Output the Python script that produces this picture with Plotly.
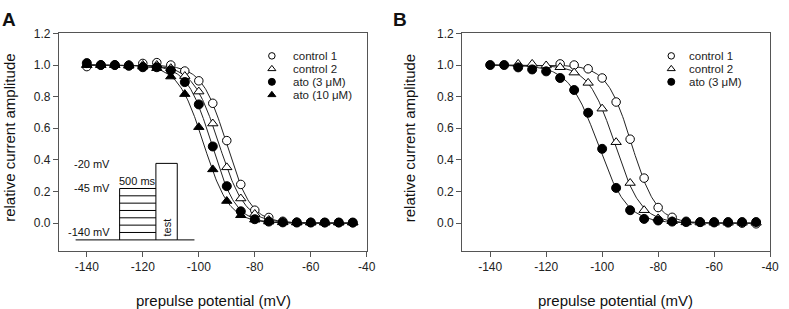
import numpy as np
import plotly.graph_objects as go

# ---------------- data ----------------
volts = [-140, -135, -130, -125, -120, -115, -110, -105, -100, -95,
         -90, -85, -80, -75, -70, -65, -60, -55, -50, -45]

a_control1 = [0.99, 1.00, 1.00, 1.00, 1.01, 1.015, 1.00, 0.962, 0.90, 0.758,
              0.522, 0.245, 0.082, 0.036, 0.012, 0.006, 0.005, 0.004, 0.004, 0.003]
a_control2 = [1.00, 1.00, 1.00, 1.00, 1.00, 1.00, 0.98, 0.93, 0.832, 0.63,
              0.353, 0.156, 0.058, 0.02, 0.008, 0.005, 0.004, 0.004, 0.004, 0.004]
a_ato3 = [1.012, 1.00, 1.00, 0.995, 0.986, 0.986, 0.966, 0.892, 0.751, 0.485,
          0.234, 0.075, 0.025, 0.010, 0.005, 0.004, 0.004, 0.004, 0.004, 0.004]
a_ato10 = [1.00, 1.00, 1.00, 0.995, 0.99, 0.98, 0.927, 0.816, 0.607, 0.34,
           0.14, 0.05, 0.022, 0.01, 0.005, 0.004, 0.004, 0.004, 0.004, 0.004]

b_control1 = [None, None, None, None, None, 1.007, 1.00, 0.976, 0.918, 0.766,
              0.531, 0.285, 0.099, 0.037, 0.012, 0.005, 0.003, 0.002, 0.0, -0.004]
b_control2 = [None, None, 1.007, 1.007, 0.997, 0.986, 0.952, 0.887, 0.724, 0.512,
              0.254, 0.082, 0.030, 0.012, 0.005, 0.004, 0.003, 0.003, 0.003, 0.003]
b_ato3 = [1.00, 1.00, 0.985, 0.972, 0.96, 0.918, 0.842, 0.698, 0.47, 0.223,
          0.082, 0.027, 0.017, 0.010, 0.007, 0.007, 0.007, 0.007, 0.007, 0.007]

names_a = ["control 1", "control 2", "ato (3 \u03bcM)", "ato (10 \u03bcM)"]
names_b = ["control 1", "control 2", "ato (3 \u03bcM)"]
xticks = [-140, -120, -100, -80, -60, -40]
yticks = [0.0, 0.2, 0.4, 0.6, 0.8, 1.0, 1.2]

# ---------------- helpers ----------------
W, H = 789, 309
FONT = "Arial, Liberation Sans, sans-serif"
AX = "#555555"


def boltzmann_fit(v, y):
    v = np.asarray(v, float)
    y = np.array([np.nan if t is None else t for t in y], float)
    m = (y > 0.04) & (y < 0.96)
    z = np.log(1.0 / y[m] - 1.0)
    slope, icpt = np.polyfit(v[m], z, 1)
    vv = np.linspace(v.min(), v.max(), 300)
    return vv, 1.0 / (1.0 + np.exp(slope * vv + icpt))


styles = {
    "control 1": dict(symbol="circle", color="white", size=8.5),
    "control 2": dict(symbol="triangle-up", color="white", size=9),
    "ato (3 \u03bcM)": dict(symbol="circle", color="black", size=9),
    "ato (10 \u03bcM)": dict(symbol="triangle-up", color="black", size=9),
}

fig = go.Figure()


def add_panel(series, names, xa, ya):
    for y in series:
        vv, yy = boltzmann_fit(volts, y)
        fig.add_trace(go.Scatter(x=vv, y=yy, mode="lines", xaxis=xa, yaxis=ya,
                                 line=dict(color="#222222", width=1),
                                 showlegend=False, hoverinfo="skip"))
    for y, n in zip(series, names):
        s = styles[n]
        fig.add_trace(go.Scatter(x=volts, y=y, mode="markers", xaxis=xa, yaxis=ya,
                                 name=n, showlegend=False,
                                 marker=dict(symbol=s["symbol"], size=s["size"], color=s["color"],
                                             line=dict(color="black", width=1))))


add_panel([a_control1, a_control2, a_ato3, a_ato10], names_a, "x", "y")
add_panel([b_control1, b_control2, b_ato3], names_b, "x2", "y2")


def xd(p0, p1):
    return [p0 / W, p1 / W]


def yd(top, bot):
    return [1 - bot / H, 1 - top / H]


axis_common = dict(showline=True, linecolor=AX, linewidth=1, mirror=True,
                   ticks="outside", ticklen=5, tickcolor=AX, tickwidth=1,
                   showgrid=False, zeroline=False,
                   tickfont=dict(family=FONT, size=12, color="#222222"))

xcommon = dict(axis_common, range=[-150, -40], tickvals=xticks,
               ticktext=[str(t) for t in xticks])
ycommon = dict(axis_common, range=[-0.175, 1.2], tickvals=yticks,
               ticktext=["%.1f" % t for t in yticks])

fig.update_layout(
    width=W, height=H, margin=dict(l=0, r=0, t=0, b=0),
    paper_bgcolor="white", plot_bgcolor="rgba(0,0,0,0)", showlegend=False,
    xaxis=dict(xcommon, domain=xd(59.5, 371), anchor="y"),
    yaxis=dict(ycommon, domain=yd(27, 249.5), anchor="x"),
    xaxis2=dict(xcommon, domain=xd(467.5, 779), anchor="y2"),
    yaxis2=dict(ycommon, domain=yd(27, 249.5), anchor="x2"),
    xaxis3=dict(domain=[0, 1], range=[0, W], visible=False, anchor="y3", fixedrange=True),
    yaxis3=dict(domain=[0, 1], range=[H, 0], visible=False, anchor="x3", fixedrange=True),
)

# ---------------- manual legends (pixel overlay) ----------------
def add_legend(names, mx, tx, y0, dy):
    for i, n in enumerate(names):
        s = styles[n]
        yy = y0 + i * dy
        fig.add_trace(go.Scatter(x=[mx], y=[yy], mode="markers", xaxis="x3", yaxis="y3",
                                 showlegend=False, hoverinfo="skip",
                                 marker=dict(symbol=s["symbol"], size=s["size"] - 2, color=s["color"],
                                             line=dict(color="black", width=1))))
        fig.add_annotation(x=tx, y=yy, xref="x3", yref="y3", text=n, showarrow=False,
                           xanchor="left", yanchor="middle",
                           font=dict(family=FONT, size=11.5, color="#222222"))


add_legend(names_a, 275, 294, 50, 13.3)
add_legend(names_b, 679, 695, 50, 13.3)

# ---------------- titles and panel labels ----------------
def txt(x, y, t, size, angle=0, bold=False, xanchor="center"):
    fig.add_annotation(x=x, y=y, xref="x3", yref="y3", text=("<b>%s</b>" % t) if bold else t,
                       showarrow=False, textangle=angle, xanchor=xanchor, yanchor="middle",
                       font=dict(family=FONT, size=size, color="#111111"))


txt(215.5, 300, "prepulse potential (mV)", 15)
txt(623, 300, "prepulse potential (mV)", 15)
txt(10, 134, "relative current amplitude", 15, angle=-90)
txt(415, 134, "relative current amplitude", 15, angle=-90)
txt(9, 13, "A", 19, bold=True)
txt(405, 13, "B", 19, bold=True)

# ---------------- voltage protocol inset ----------------
def seg(x0, y0, x1, y1):
    fig.add_shape(type="line", x0=x0, y0=y0, x1=x1, y1=y1, xref="x3", yref="y3",
                  line=dict(color="black", width=1))


base = 238.3
steps = [185.7, 193.2, 200.7, 208.2, 215.7, 223.2, 230.7]
seg(76.5, base, 179.3, base)
seg(179.3, base, 196.7, base)
seg(121, steps[0], 121, base)
for s in steps:
    seg(121, s, 157.7, s)
seg(157.7, 160, 157.7, base)
seg(157.7, 160, 179.3, 160)
seg(179.3, 160, 179.3, base)
txt(113.5, 160.5, "-20 mV", 11, xanchor="right")
txt(113.5, 185.5, "-45 mV", 11, xanchor="right")
txt(113.5, 230, "-140 mV", 11, xanchor="right")
txt(139.3, 178.5, "500 ms", 11)
txt(168.5, 226, "test", 11, angle=-90)

fig.write_html("out.html", config={"displayModeBar": False},
               post_script="document.body.style.margin='0';")
